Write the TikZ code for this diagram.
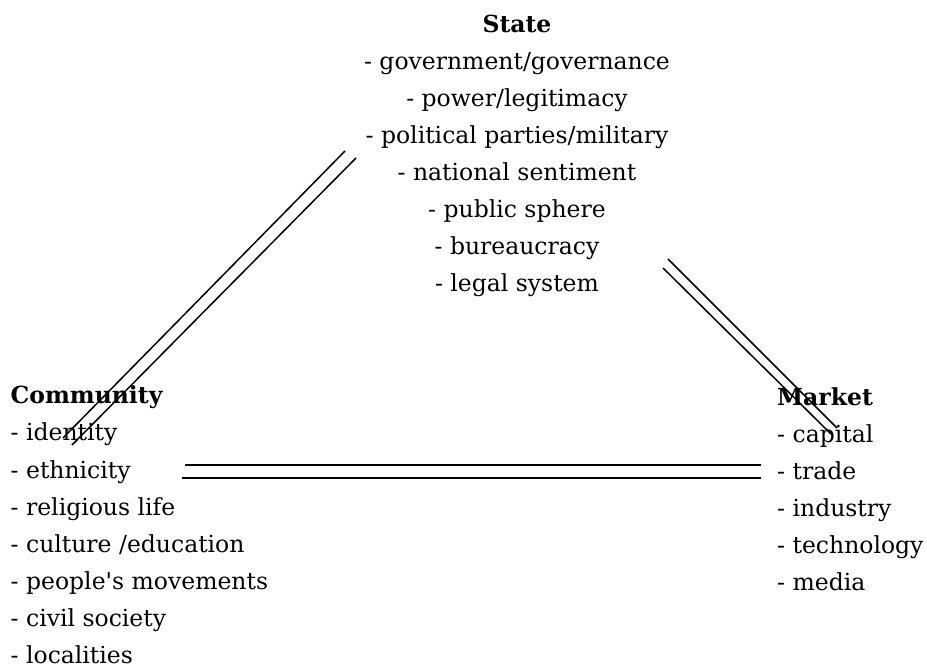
\documentclass[tikz,border=0pt]{standalone}
\usepackage{fontspec}
\setmainfont{DejaVu Serif}
\usepackage{tikz}

\begin{document}
\begin{tikzpicture}[x=1pt,y=-1pt,
  column/.style={inner sep=0pt,font=\fontsize{23.5}{37.1}\selectfont},
  link/.style={line width=1.5pt},
  flatlink/.style={line width=2pt}]
\useasboundingbox (0,0) rectangle (927,668);

% the three corners (anchored at the baseline of their last line)
\node[column,align=center,anchor=base] (state) at (517,292)
  {\textbf{State}\\
   - government/governance\\
   - power/legitimacy\\
   - political parties/military\\
   - national sentiment\\
   - public sphere\\
   - bureaucracy\\
   - legal system};
\node[column,align=left,anchor=base west] (community) at (10.5,663.5)
  {\textbf{Community}\\
   - identity\\
   - ethnicity\\
   - religious life\\
   - culture /education\\
   - people\textquotesingle s movements\\
   - civil society\\
   - localities};
\node[column,align=left,anchor=base west] (market) at (777,590.5)
  {\textbf{Market}\\
   - capital\\
   - trade\\
   - industry\\
   - technology\\
   - media};

% ends of the double links
\coordinate (sc1) at (345,151);   \coordinate (cs1) at (63,438);
\coordinate (sc2) at (356,158);   \coordinate (cs2) at (72,445);
\coordinate (sm1) at (668,259);   \coordinate (ms1) at (837,428);
\coordinate (sm2) at (663,268);   \coordinate (ms2) at (831,434);
\coordinate (cm1) at (185,464.5); \coordinate (mc1) at (761,464.5);
\coordinate (cm2) at (182,477.5); \coordinate (mc2) at (761,477.5);

% state -- community
\draw[link] (sc1) -- (cs1);
\draw[link] (sc2) -- (cs2);
% state -- market
\draw[link] (sm1) -- (ms1);
\draw[link] (sm2) -- (ms2);
% community -- market
\draw[flatlink] (cm1) -- (mc1);
\draw[flatlink] (cm2) -- (mc2);
\end{tikzpicture}
\end{document}
